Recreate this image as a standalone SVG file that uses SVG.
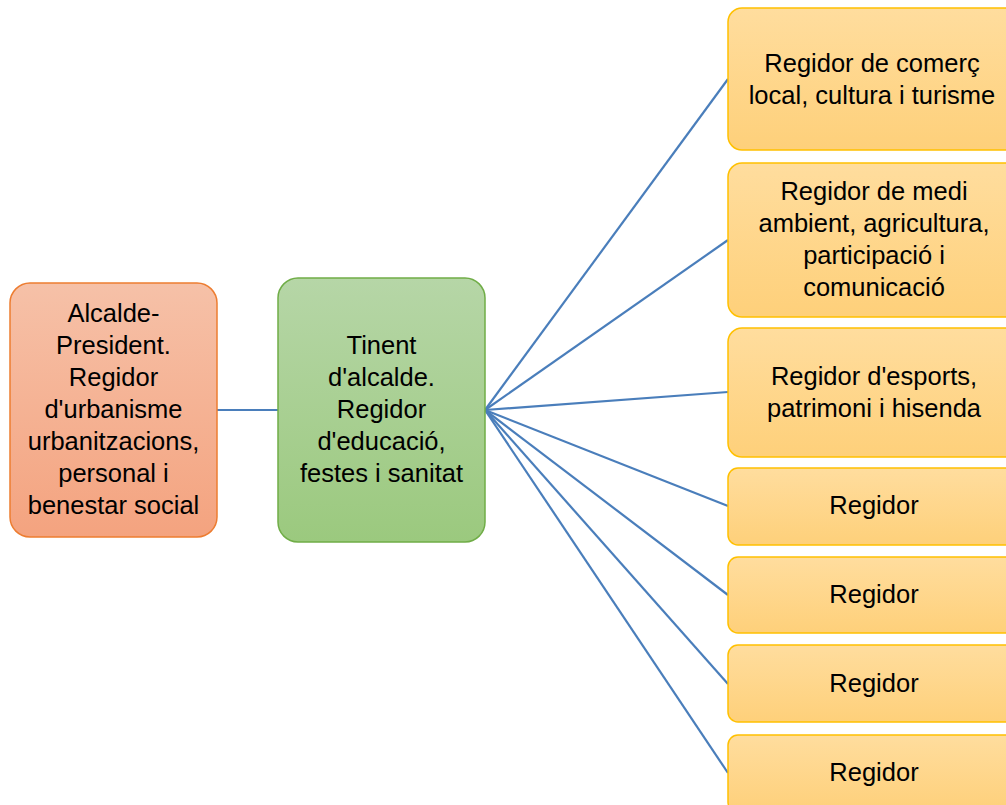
<svg xmlns="http://www.w3.org/2000/svg" width="1006" height="805" viewBox="0 0 1006 805">
  <defs>
    <linearGradient id="gOrange" x1="0" y1="0" x2="0" y2="1">
      <stop offset="0" stop-color="#f6c1a8"/>
      <stop offset="1" stop-color="#f4a37f"/>
    </linearGradient>
    <linearGradient id="gGreen" x1="0" y1="0" x2="0" y2="1">
      <stop offset="0" stop-color="#b6d6a7"/>
      <stop offset="1" stop-color="#9bc97e"/>
    </linearGradient>
    <linearGradient id="gYellow" x1="0" y1="0" x2="0" y2="1">
      <stop offset="0" stop-color="#ffdd9e"/>
      <stop offset="1" stop-color="#fed07a"/>
    </linearGradient>
  </defs>
  <style>
    text { font-family: "Liberation Sans", Arial, sans-serif; font-size: 25.5px; fill: #000; text-anchor: middle; }
    .orange { fill: url(#gOrange); stroke: #ed7d31; stroke-width: 1.5; }
    .green { fill: url(#gGreen); stroke: #70ad47; stroke-width: 1.5; }
    .yellow { fill: url(#gYellow); stroke: #ffc000; stroke-width: 1.5; }
    .link { stroke: #4a7ebb; stroke-width: 2.2; fill: none; }
  </style>
  <rect width="1006" height="805" fill="#ffffff"/>

  <g id="connectors">
    <line class="link" x1="217" y1="410" x2="278" y2="410"/>
    <line class="link" x1="485" y1="410" x2="728" y2="79"/>
    <line class="link" x1="485" y1="410" x2="728" y2="240"/>
    <line class="link" x1="485" y1="410" x2="728" y2="392"/>
    <line class="link" x1="485" y1="410" x2="728" y2="506"/>
    <line class="link" x1="485" y1="410" x2="728" y2="595"/>
    <line class="link" x1="485" y1="410" x2="728" y2="684"/>
    <line class="link" x1="485" y1="410" x2="728" y2="773"/>
  </g>

  <g id="alcalde">
    <rect class="orange" x="10" y="283" width="207" height="254" rx="20"/>
    <text x="113.5" y="322">Alcalde-</text>
    <text x="113.5" y="354">President.</text>
    <text x="113.5" y="386">Regidor</text>
    <text x="113.5" y="418">d'urbanisme</text>
    <text x="113.5" y="450">urbanitzacions,</text>
    <text x="113.5" y="482">personal i</text>
    <text x="113.5" y="514">benestar social</text>
  </g>

  <g id="tinent">
    <rect class="green" x="278" y="278" width="207" height="264" rx="20"/>
    <text x="381.5" y="354">Tinent</text>
    <text x="381.5" y="386">d'alcalde.</text>
    <text x="381.5" y="418">Regidor</text>
    <text x="381.5" y="450">d'educació,</text>
    <text x="381.5" y="482">festes i sanitat</text>
  </g>

  <g id="regidor-comerc">
    <rect class="yellow" x="728" y="8" width="292" height="142" rx="14"/>
    <text x="872" y="72">Regidor de comerç</text>
    <text x="872" y="104">local, cultura i turisme</text>
  </g>

  <g id="regidor-medi">
    <rect class="yellow" x="728" y="163" width="292" height="154" rx="14"/>
    <text x="874" y="200">Regidor de medi</text>
    <text x="874" y="232">ambient, agricultura,</text>
    <text x="874" y="264">participació i</text>
    <text x="874" y="296">comunicació</text>
  </g>

  <g id="regidor-esports">
    <rect class="yellow" x="728" y="328" width="292" height="129" rx="14"/>
    <text x="874" y="385">Regidor d'esports,</text>
    <text x="874" y="417">patrimoni i hisenda</text>
  </g>

  <g id="regidor-4">
    <rect class="yellow" x="728" y="468" width="292" height="77" rx="10"/>
    <text x="874" y="514">Regidor</text>
  </g>

  <g id="regidor-5">
    <rect class="yellow" x="728" y="557" width="292" height="76" rx="10"/>
    <text x="874" y="603">Regidor</text>
  </g>

  <g id="regidor-6">
    <rect class="yellow" x="728" y="645" width="292" height="77" rx="10"/>
    <text x="874" y="692">Regidor</text>
  </g>

  <g id="regidor-7">
    <rect class="yellow" x="728" y="735" width="292" height="77" rx="10"/>
    <text x="874" y="781">Regidor</text>
  </g>
</svg>
